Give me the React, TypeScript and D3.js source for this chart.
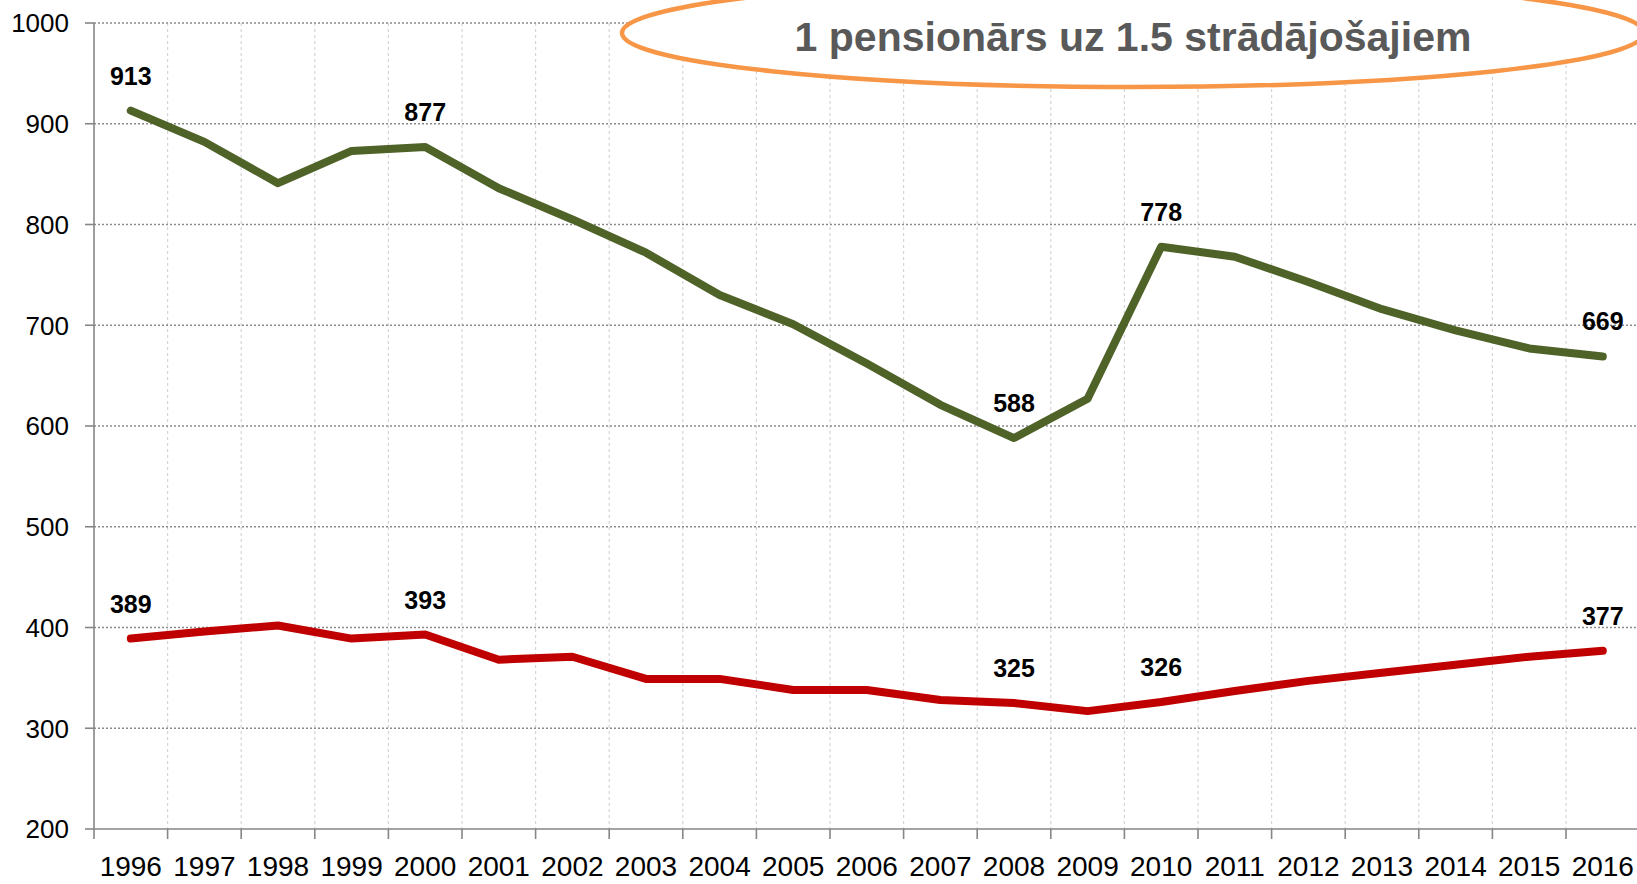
import React from "react";
import * as d3 from "d3";

const years = ["1996","1997","1998","1999","2000","2001","2002","2003","2004","2005","2006","2007","2008","2009","2010","2011","2012","2013","2014","2015","2016"];
const greenSeries = [913, 882, 841, 873, 877, 836, 805, 772, 730, 701, 662, 621, 588, 627, 778, 768, 743, 716, 695, 677, 669];
const redSeries = [389, 396, 402, 389, 393, 368, 371, 349, 349, 338, 338, 328, 325, 317, 326, 337, 347, 355, 363, 371, 377];
const greenLabelYears = ["1996", "2000", "2008", "2010", "2016"];
const redLabelYears = ["1996", "2000", "2008", "2010", "2016"];
const yTicks = [200, 300, 400, 500, 600, 700, 800, 900, 1000];
const titleText = "1 pensionārs uz 1.5 strādājošajiem";

const W = 1637;
const H = 884;
const FONT = "'Liberation Sans', Arial, sans-serif";

export default function App() {
  const x0 = 94;
  const step = 73.6;
  const x = d3.scaleBand<string>().domain(years).range([x0, x0 + step * years.length]).padding(0);
  const y = d3.scaleLinear().domain([200, 1000]).range([829, 23]);
  const cx = (yr: string) => (x(yr) as number) + x.bandwidth() / 2;

  const line = d3.line<number>()
    .x((_, i) => cx(years[i]))
    .y((d) => y(d));

  const boundaries = d3.range(years.length + 1).map((i) => x0 + i * x.step());
  const plotRight = W;

  return (
    <svg width={W} height={H} style={{ position: "absolute", left: 0, top: 0, background: "#fff" }} fontFamily={FONT}>
      {/* vertical grid */}
      {boundaries.slice(1).map((bx, i) => (
        <line key={"vg" + i} x1={bx} x2={bx} y1={y(1000)} y2={y(200)} stroke="#d4d4d4" strokeWidth={1.2} strokeDasharray="3,3" />
      ))}
      {/* horizontal grid */}
      {yTicks.filter((t) => t > 200).map((t) => (
        <line key={"hg" + t} x1={x0} x2={plotRight} y1={y(t)} y2={y(t)} stroke="#8a8a8a" strokeWidth={1.3} strokeDasharray="2,2" />
      ))}
      {/* y axis */}
      <line x1={x0} x2={x0} y1={y(1000)} y2={y(200)} stroke="#868686" strokeWidth={1.6} />
      {yTicks.map((t) => (
        <g key={"yt" + t}>
          <line x1={x0 - 9} x2={x0} y1={y(t)} y2={y(t)} stroke="#868686" strokeWidth={1.6} />
          <text x={69} y={y(t)} dy="0.36em" textAnchor="end" fontSize={26} fill="#000">{t}</text>
        </g>
      ))}
      {/* x axis */}
      <line x1={x0} x2={plotRight} y1={y(200)} y2={y(200)} stroke="#868686" strokeWidth={1.6} />
      {boundaries.map((bx, i) => (
        <line key={"xt" + i} x1={bx} x2={bx} y1={y(200)} y2={y(200) + 10} stroke="#868686" strokeWidth={1.6} />
      ))}
      {years.map((yr) => (
        <text key={"xl" + yr} x={cx(yr)} y={876} textAnchor="middle" fontSize={28} fill="#000">{yr}</text>
      ))}

      {/* series */}
      <path d={line(greenSeries) || ""} fill="none" stroke="#4F6228" strokeWidth={8} strokeLinejoin="round" strokeLinecap="round" />
      <path d={line(redSeries) || ""} fill="none" stroke="#C00000" strokeWidth={8} strokeLinejoin="round" strokeLinecap="round" />

      {/* data labels */}
      {greenLabelYears.map((yr) => {
        const i = years.indexOf(yr);
        return (
          <text key={"gl" + yr} x={cx(yr)} y={y(greenSeries[i]) - 26} textAnchor="middle" fontSize={25} fontWeight="bold" fill="#000">{greenSeries[i]}</text>
        );
      })}
      {redLabelYears.map((yr) => {
        const i = years.indexOf(yr);
        return (
          <text key={"rl" + yr} x={cx(yr)} y={y(redSeries[i]) - 26} textAnchor="middle" fontSize={25} fontWeight="bold" fill="#000">{redSeries[i]}</text>
        );
      })}

      {/* title in ellipse */}
      <ellipse cx={1133} cy={33} rx={511} ry={54} fill="#fff" stroke="#F79646" strokeWidth={4.5} />
      <text x={1133} y={51} textAnchor="middle" fontSize={41} fontWeight="bold" fill="#595959">{titleText}</text>
    </svg>
  );
}
